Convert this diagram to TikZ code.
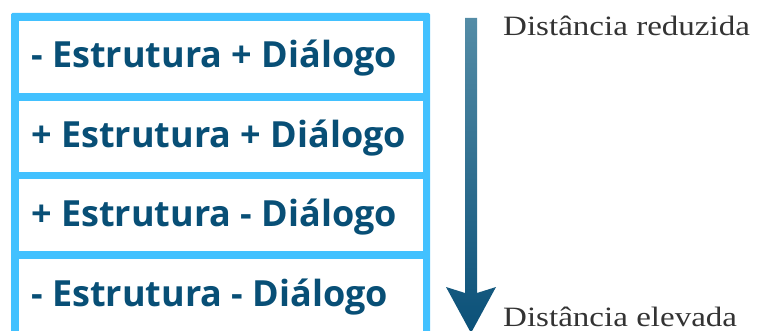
\documentclass[tikz,border=0pt]{standalone}
\usepackage{fontspec}
\newfontfamily\boxfont{Open Sans}
\newfontfamily\labelfont[FakeStretch=1.18]{Liberation Serif}
\definecolor{frameblue}{RGB}{66,193,255}
\definecolor{textblue}{RGB}{8,79,118}
\definecolor{labelgrey}{RGB}{51,51,51}
\definecolor{arrtop}{RGB}{84,140,166}
\definecolor{arrbot}{RGB}{10,80,120}
\tikzset{
  rowbox/.style={fill=white, draw=none, anchor=north west, minimum width=404.5pt, minimum height=72pt, inner sep=0pt, outer sep=0pt},
  rowtext/.style={anchor=base west, inner sep=0pt, text=textblue, font=\boxfont\bfseries\fontsize{36}{42}\selectfont},
  sidelabel/.style={anchor=base west, inner sep=0pt, text=labelgrey, font=\labelfont\fontsize{28}{34}\selectfont},
}
\begin{document}
\begin{tikzpicture}[x=1pt,y=-1pt]
\useasboundingbox (0,0) rectangle (766,331);
\begin{scope}
\clip (0,0) rectangle (766,331);
% frame
\fill[frameblue, rounded corners=1.5pt] (11,13) rectangle (430,360);
\node[rowbox] (b1) at (18.5,21) {};
\node[rowbox, minimum height=71pt] (b2) at (18.5,101) {};
\node[rowbox, minimum height=71.5pt] (b3) at (18.5,179.5) {};
\node[rowbox, minimum height=90pt] (b4) at (18.5,259) {};
\node[rowtext] (t1) at (31,68) {- Estrutura + Diálogo};
\node[rowtext] (t2) at (31,148) {+ Estrutura + Diálogo};
\node[rowtext] (t3) at (31,227) {+ Estrutura - Diálogo};
\node[rowtext] (t4) at (31,306) {- Estrutura - Diálogo};
% arrow
\coordinate (atop) at (471,18);
\coordinate (atip) at (471,333);
\shade[top color=arrtop, bottom color=arrbot]
  ([xshift=-6pt]atop) -- ([xshift=6pt]atop) -- ([xshift=6pt]atop |- 0,293)
  -- ([xshift=25pt]atop |- 0,287) -- (atip) -- ([xshift=-25pt]atop |- 0,287)
  -- ([xshift=-6pt]atop |- 0,293) -- cycle;
% labels
\node[sidelabel] (lt) at (503,36) {Distância reduzida};
\node[sidelabel] (lb) at (503,326) {Distância elevada};
\end{scope}
\end{tikzpicture}
\end{document}
